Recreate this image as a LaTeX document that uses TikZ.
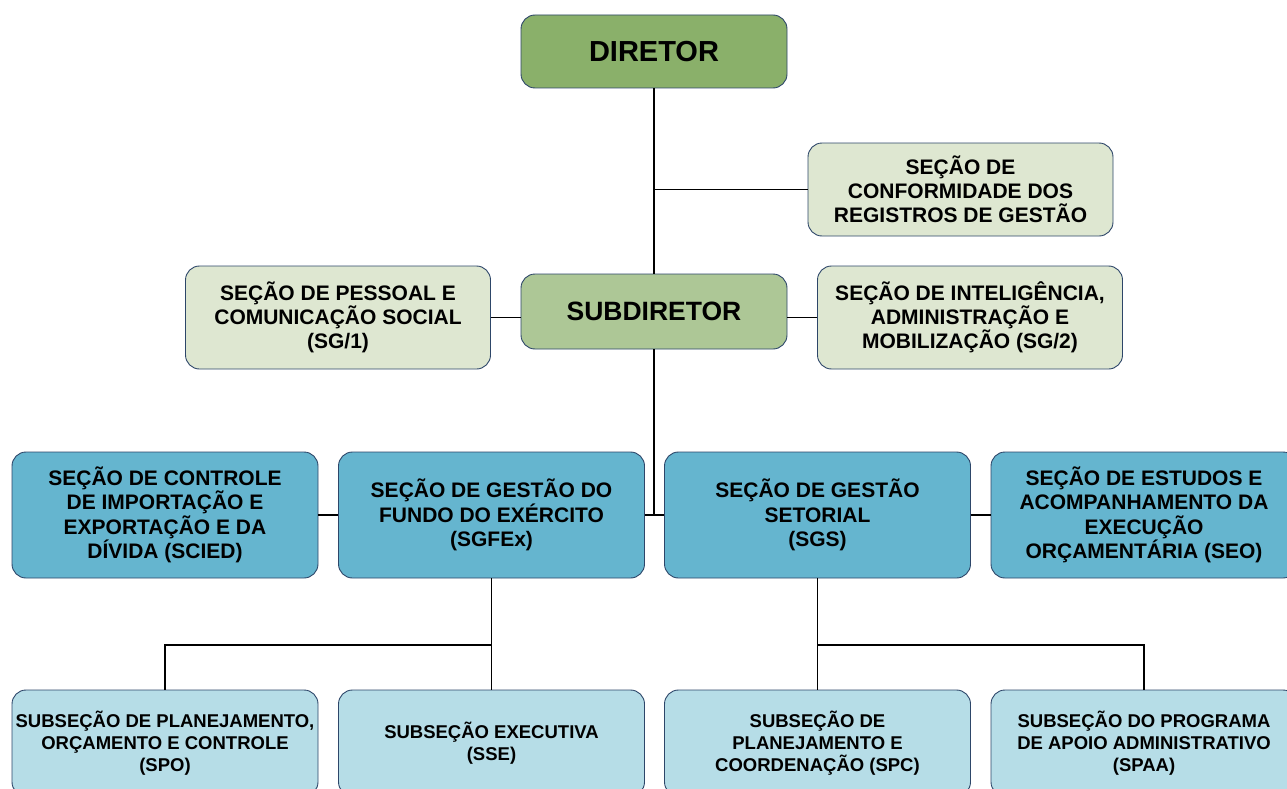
\documentclass[tikz,border=0pt]{standalone}
\usepackage{fontspec}
\setmainfont{Liberation Sans}
\usepackage{tikz}
\definecolor{dirgreen}{RGB}{138,176,106}
\definecolor{subgreen}{RGB}{173,199,150}
\definecolor{palegreen}{RGB}{222,231,209}
\definecolor{secblue}{RGB}{101,181,207}
\definecolor{paleblue}{RGB}{182,221,231}
\definecolor{boxline}{RGB}{45,70,105}
\tikzset{
	orgbox/.style={draw=boxline, line width=0.9pt, rounded corners=14pt, align=center, inner sep=0pt, font=\bfseries},
	topbox/.style={orgbox, fill=dirgreen, minimum width=266pt, minimum height=73pt},
	staffbox/.style={orgbox, fill=palegreen, minimum width=305pt, minimum height=103pt, font=\bfseries\fontsize{21}{24}\selectfont},
	secbox/.style={orgbox, fill=secblue, minimum width=306pt, minimum height=126pt, font=\bfseries\fontsize{21}{24.5}\selectfont},
	subbox/.style={orgbox, fill=paleblue, minimum width=306pt, minimum height=106pt, font=\bfseries\fontsize{18.5}{22}\selectfont},
	link/.style={line width=1.2pt, black}
}
\begin{document}
\begin{tikzpicture}[x=1pt,y=-1pt]
		%%%%% START %%%%%
		\useasboundingbox (0,0) rectangle (1287,789);
		\clip (0,0) rectangle (1287,789);
		
		\node[topbox, font=\bfseries\fontsize{29}{34}\selectfont] (diretor) at (654, 51.5) {DIRETOR};
		\node[staffbox, minimum height=93pt] (conf) at (960.5, 189.5) {SEÇÃO DE\\CONFORMIDADE DOS\\REGISTROS DE GESTÃO};
		
		\node[topbox, fill=subgreen, minimum height=75pt, font=\bfseries\fontsize{26.5}{30}\selectfont] (subdir) at (654, 311.5) {SUBDIRETOR};
		\node[staffbox] (sg1) at (338, 317.5) {SEÇÃO DE PESSOAL E\\COMUNICAÇÃO SOCIAL\\(SG/1)};
		\node[staffbox] (sg2) at (970, 317.5) {SEÇÃO DE INTELIGÊNCIA,\\ADMINISTRAÇÃO E\\MOBILIZAÇÃO (SG/2)};
		
		\node[secbox] (scied) at (165, 515) {SEÇÃO DE CONTROLE\\DE IMPORTAÇÃO E\\EXPORTAÇÃO E DA\\DÍVIDA (SCIED)};
		\node[secbox] (sgfex) at (491.5, 515) {SEÇÃO DE GESTÃO DO\\FUNDO DO EXÉRCITO\\(SGFEx)};
		\node[secbox] (sgs) at (817.5, 515) {SEÇÃO DE GESTÃO\\SETORIAL\\(SGS)};
		\node[secbox] (seo) at (1144, 515) {SEÇÃO DE ESTUDOS E\\ACOMPANHAMENTO DA\\EXECUÇÃO\\ORÇAMENTÁRIA (SEO)};
		
		\node[subbox] (spo) at (165, 743) {SUBSEÇÃO DE PLANEJAMENTO,\\ORÇAMENTO E CONTROLE\\(SPO)};
		\node[subbox] (sse) at (491.5, 743) {SUBSEÇÃO EXECUTIVA\\(SSE)};
		\node[subbox] (spc) at (817.5, 743) {SUBSEÇÃO DE\\PLANEJAMENTO E\\COORDENAÇÃO (SPC)};
		\node[subbox] (spaa) at (1144, 743) {SUBSEÇÃO DO PROGRAMA\\DE APOIO ADMINISTRATIVO\\(SPAA)};
		
		\coordinate (hub) at (654, 515);
		\coordinate (forkA) at (491.5, 645);
		\coordinate (forkB) at (817.5, 645);
		
		\draw[link] (diretor.south) -- (subdir.north);
		\draw[link] (conf.west) -- (conf.west -| diretor.south);
		\draw[link] (sg1.east) -- (sg1.east -| subdir.west);
		\draw[link] (sg2.west) -- (sg2.west -| subdir.east);
		\draw[link] (subdir.south) -- (hub);
		\draw[link] (sgfex.east) -- (sgs.west);
		\draw[link] (scied.east) -- (sgfex.west);
		\draw[link] (sgs.east) -- (seo.west);
		
		\draw[link] (sgfex.south) -- (sse.north);
		\draw[link] (forkA) -| (spo.north);
		\draw[link] (sgs.south) -- (spc.north);
		\draw[link] (forkB) -| (spaa.north);
		%%%%% END %%%%%
\end{tikzpicture}
\end{document}
